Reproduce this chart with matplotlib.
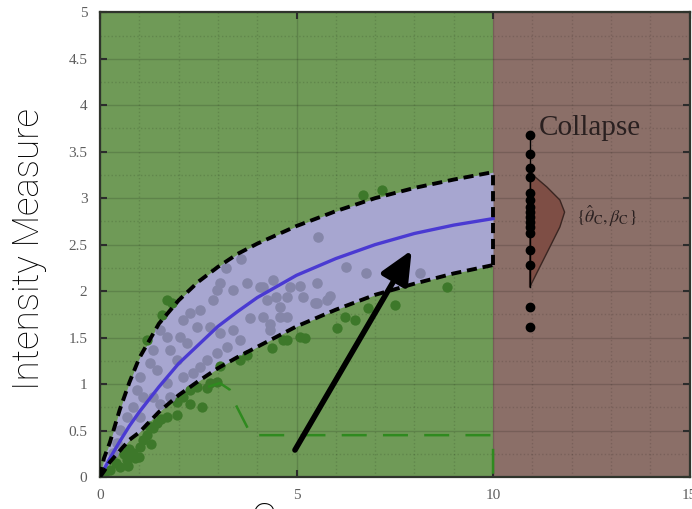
import numpy as np
import matplotlib
matplotlib.use("Agg")
import matplotlib.pyplot as plt
from matplotlib.ticker import MultipleLocator

# colours
GREEN_BG = "#6f9a57"
BROWN_BG = "#8b6f68"
BAND = "#a7a6d0"
GRAY_PT = "#8586a9"
GREEN_PT = "#3d782a"
BLUE = "#4a3ad2"

# fitted IDA band: median and +/- curves
band_x = [0, 0.1, 0.25, 0.5, 0.75, 1, 1.5, 2, 2.5, 3, 3.5, 4, 5, 6, 7, 8, 9, 10]
median_y = [0, 0.08, 0.2, 0.38, 0.55, 0.7, 0.97, 1.22, 1.42, 1.62, 1.78, 1.93,
            2.17, 2.35, 2.5, 2.62, 2.71, 2.78]
upper_y = [0, 0.2, 0.37, 0.72, 1.02, 1.28, 1.65, 1.9, 2.1, 2.26, 2.4, 2.51,
           2.7, 2.86, 3.0, 3.11, 3.2, 3.28]
lower_y = [0, 0.06, 0.16, 0.28, 0.4, 0.48, 0.7, 0.88, 1.03, 1.17, 1.29, 1.4,
           1.62, 1.8, 1.96, 2.08, 2.19, 2.28]

# IDA points outside the band (green) and inside it (gray)
green_x = [0.1, 0.25, 0.4, 0.51, 0.6, 0.68, 0.7, 0.75, 0.85, 0.9, 1.0, 1.02, 1.1,
           1.2, 1.25, 1.3, 1.35, 1.44, 1.55, 1.7, 1.95, 1.95, 2.12, 2.29, 2.46,
           2.72, 2.8, 2.97, 2.29, 2.59, 3.05, 3.56, 3.73, 4.37, 4.66, 4.75, 5.08,
           5.21, 6.02, 6.23, 6.48, 6.81, 7.5, 8.82, 6.69, 7.17, 1.7, 1.83, 1.57, 1.19]
green_y = [0.03, 0.07, 0.15, 0.11, 0.25, 0.18, 0.12, 0.3, 0.26, 0.2, 0.22, 0.32, 0.4,
           0.45, 0.55, 0.35, 0.53, 0.58, 0.62, 0.65, 0.67, 0.81, 0.86, 0.94, 0.97,
           0.96, 1.01, 1.02, 0.79, 0.75, 1.19, 1.26, 1.31, 1.39, 1.47, 1.47, 1.51,
           1.49, 1.6, 1.72, 1.69, 1.82, 1.85, 2.04, 3.03, 3.09, 1.9, 1.87, 1.74, 1.47]

gray_x = [3.38, 3.73, 4.07, 4.41, 4.24, 4.49, 3.81, 4.15, 4.32, 4.58, 3.05, 2.88,
          2.54, 2.29, 2.12, 2.46, 2.8, 3.05, 3.38, 3.56, 3.23, 2.97, 2.72, 2.54,
          2.37, 2.12, 1.95, 1.78, 1.7, 1.53, 2.03, 2.21, 1.35, 1.27, 1.44, 1.7,
          1.02, 0.94, 1.1, 1.35, 0.85, 0.68, 0.51, 1.02, 0.42, 0.34, 1.78, 1.53,
          2.97, 4.83, 5.16, 5.52, 5.52, 5.77, 5.85, 4.58, 4.75, 4.32, 3.2, 3.6,
          5.55, 6.27, 6.77, 8.14, 5.08, 4.75, 5.47, 4.15]
gray_y = [2.01, 2.09, 2.04, 2.12, 1.9, 1.94, 1.71, 1.72, 1.65, 1.72, 2.09, 1.9,
          1.8, 1.76, 1.69, 1.61, 1.61, 1.55, 1.58, 1.47, 1.4, 1.33, 1.26, 1.18,
          1.12, 1.08, 1.26, 1.37, 1.51, 1.58, 1.51, 1.44, 1.37, 1.23, 1.15, 1.01,
          1.08, 0.94, 0.86, 0.86, 0.75, 0.65, 0.51, 0.65, 0.37, 0.26, 0.86, 0.79,
          2.01, 2.04, 1.94, 2.09, 1.87, 1.9, 1.95, 1.83, 1.72, 1.58, 2.25, 2.35,
          2.58, 2.26, 2.19, 2.2, 2.06, 1.94, 1.87, 2.04]

# green dashed limit-state line
limit_x = [2.75, 3.05, 3.3, 3.45, 3.85, 10.0, 10.0]
limit_y = [0.97, 1.01, 0.94, 0.78, 0.45, 0.45, 0.0]

# collapse points and their fragility pdf
collapse_x = 10.95
collapse_y = [3.68, 3.48, 3.32, 3.23, 3.06, 2.98, 2.9, 2.85, 2.8, 2.74, 2.69,
              2.62, 2.44, 2.28, 1.83, 1.61]
pdf_x = [10.95, 11.01, 11.37, 11.7, 11.82, 11.7, 11.44, 11.19, 10.93]
pdf_y = [3.27, 3.25, 3.12, 2.98, 2.85, 2.69, 2.47, 2.26, 2.04]

plt.rcParams["mathtext.fontset"] = "stix"
fig = plt.figure(figsize=(6.92, 5.09), dpi=100)
ax = fig.add_axes([0.1445, 0.0629, 0.852, 0.913])
ax.set_facecolor(GREEN_BG)
ax.axvspan(10, 15, color=BROWN_BG, zorder=0.2, lw=0)

ax.set_xlim(0, 15)
ax.set_ylim(0, 5)
ax.xaxis.set_major_locator(MultipleLocator(5))
ax.xaxis.set_minor_locator(MultipleLocator(1))
ax.yaxis.set_major_locator(MultipleLocator(0.5))
ax.yaxis.set_minor_locator(MultipleLocator(0.25))
ax.set_yticks(np.arange(0, 5.01, 0.5))
ax.set_yticklabels(["0", "0.5", "1", "1.5", "2", "2.5", "3", "3.5", "4", "4.5", "5"])
ax.set_axisbelow(True)
ax.grid(which="major", color="k", alpha=0.15, lw=1.0)
ax.grid(which="minor", color="k", alpha=0.13, lw=1.0, ls=":")
ax.tick_params(which="major", direction="in", length=5, width=1.5, color="#2c2c2c",
               top=True, right=True, labelcolor="#5e5e5e", labelsize=11, pad=9)
ax.tick_params(which="minor", length=0)
for lab in ax.get_xticklabels() + ax.get_yticklabels():
    lab.set_family("Liberation Serif")
for sp in ax.spines.values():
    sp.set_color("#2f342c")
    sp.set_linewidth(1.6)

# band and points
ax.fill_between(band_x, lower_y, upper_y, color=BAND, lw=0, zorder=1)
ax.scatter(green_x, green_y, s=55, color=GREEN_PT, lw=0, zorder=2)
ax.scatter(gray_x, gray_y, s=58, color=GRAY_PT, lw=0, zorder=2)
ax.plot(limit_x, limit_y, color="#2f8a1f", lw=1.8, dashes=(10, 6.5), zorder=2.5)
ax.plot(band_x, median_y, color=BLUE, lw=2.4, zorder=3)
for yy in (upper_y, lower_y):
    ax.plot(band_x, yy, color="k", lw=2.8, dashes=(2.6, 1.5), zorder=3)
ax.plot([10, 10], [lower_y[-1], upper_y[-1]], color="k", lw=2.8,
        dashes=(2.6, 1.5), zorder=3)

# collapse
ax.fill(pdf_x, pdf_y, facecolor="#7e4e45", edgecolor="#3a2622", lw=1.0, zorder=3)
ax.plot([collapse_x, collapse_x], [2.04, collapse_y[0]], color="k", lw=1.0, zorder=3)
ax.plot([collapse_x] * len(collapse_y), collapse_y, "o", color="k", ms=6, zorder=4)
ax.text(11.15, 3.68, "Collapse", family="Liberation Serif", fontsize=21,
        color="#2a2020", va="baseline", ha="left", zorder=5)
ax.text(12.1, 2.73, r"$\{\hat{\theta}_{\rm C}, \beta_{\rm C}\}$", fontsize=13,
        color="#2a2020", va="baseline", ha="left", zorder=5)

# arrow
ax.annotate("", xy=(7.93, 2.44), xytext=(4.96, 0.29),
            arrowprops=dict(arrowstyle="-|>,head_length=1.1,head_width=0.5",
                            lw=4, color="k", mutation_scale=18,
                            shrinkA=0, shrinkB=0), zorder=6)

fig.text(29 / 692, 1 - 249 / 509, "Intensity Measure", rotation=90,
         ha="center", va="center", fontsize=26.5, family=["Roboto", "DejaVu Sans"],
         fontweight="light", color="black")
fig.text(250 / 692, 8 / 509, "C", ha="left", va="top", fontsize=29,
         family=["Roboto", "DejaVu Sans"], fontweight="light", color="black")

fig.savefig("out.png", dpi=100)
